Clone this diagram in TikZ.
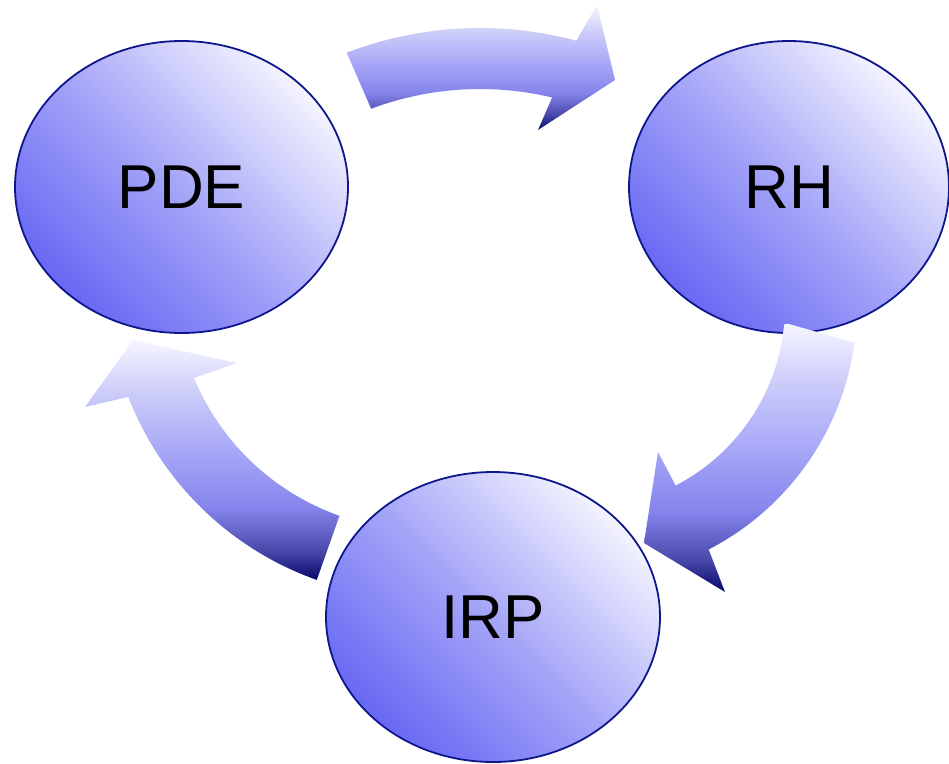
\documentclass[tikz,border=0pt]{standalone}
\usepackage{fontspec}
\setmainfont{Liberation Sans}
\usetikzlibrary{shapes.geometric}
\definecolor{elLight}{RGB}{244,244,255}
\definecolor{elMid}{RGB}{166,166,248}
\definecolor{elDark}{RGB}{104,104,244}
\definecolor{elBorder}{RGB}{14,22,140}
\definecolor{arNavy}{RGB}{8,8,108}
\definecolor{arDeep}{RGB}{72,72,170}
\definecolor{arMid}{RGB}{132,132,236}
\definecolor{arSoft}{RGB}{168,168,248}
\definecolor{arPale}{RGB}{204,204,250}
\definecolor{arTop}{RGB}{246,246,255}
\pgfdeclareverticalshading{ellshade}{100bp}{color(0bp)=(elDark); color(25bp)=(elDark); color(50bp)=(elMid); color(75bp)=(elLight); color(100bp)=(elLight)}
\pgfdeclareverticalshading{arrowshade}{100bp}{color(0bp)=(arNavy); color(25bp)=(arNavy); color(31bp)=(arDeep); color(40bp)=(arMid); color(52bp)=(arSoft); color(64bp)=(arPale); color(75bp)=(arTop); color(100bp)=(arTop)}
\tikzset{
  bubble/.style={ellipse, draw=elBorder, line width=1.8pt, shade, shading=ellshade, shading angle=-45,
    inner sep=0pt, font=\fontsize{62}{70}\selectfont},
  fatarrow/.style={shade, shading=arrowshade}
}
\begin{document}
\begin{tikzpicture}[x=1pt, y=-1pt]
\useasboundingbox (0,0) rectangle (949,763);
% nodes
\node[bubble, minimum width=333pt, minimum height=292pt] (pde) at (181.5,187) {PDE};
\node[bubble, minimum width=320pt, minimum height=292pt] (rh) at (789,187) {RH};
\node[bubble, minimum width=334pt, minimum height=290pt] (irp) at (493,617) {IRP};
% top arrow: PDE -> RH
\shade[fatarrow] (346.7,52.7) arc[start angle=-111, end angle=-75, radius=372]
  -- (597,5) -- (615,80) -- (538,130) -- (552.1,97.5)
  arc[start angle=-76.6, end angle=-110.5, radius=311] -- cycle;
% right arrow: RH -> IRP
\shade[fatarrow] (789,324) -- (854.5,342.7) arc[start angle=7.7, end angle=62.7, radius=274]
  -- (725,592) -- (644,543) -- (658,452) -- (675.6,485.5)
  arc[start angle=62.7, end angle=5.2, radius=202] -- cycle;
% left arrow: IRP -> PDE
\shade[fatarrow] (316.8,579.9) arc[start angle=109.5, end angle=158.8, radius=315]
  -- (85,407) -- (133,340) -- (237,363) -- (193.9,377.9)
  arc[start angle=157.4, end angle=109.5, radius=247] -- cycle;
\end{tikzpicture}
\end{document}
